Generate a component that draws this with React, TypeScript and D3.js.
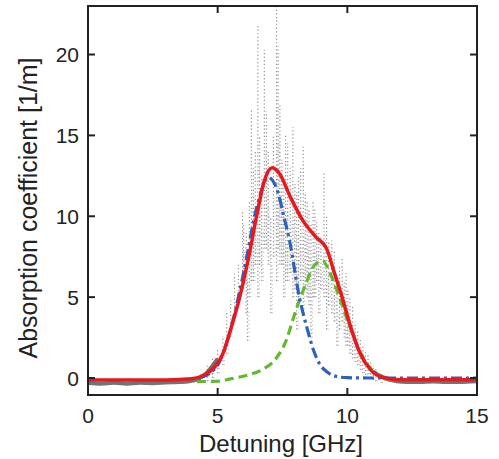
import React from "react";
import * as d3 from "d3";

// ---- data ----
const X_TICKS = [0, 5, 10, 15];
const Y_TICKS = [0, 5, 10, 15, 20];

// total fit (red)
const FIT_X = [0, 1, 2, 3, 4, 4.5, 4.9, 5.2, 5.5, 5.85, 6.2, 6.5, 6.8, 7.1, 7.4, 7.8, 8.3, 8.8, 9.2, 9.5, 9.8, 10.1, 10.5, 10.9, 11.35, 12, 13, 14, 15];
const FIT_Y = [-0.12, -0.12, -0.12, -0.12, -0.05, 0.2, 0.7, 1.5, 3.0, 5.0, 7.5, 10.0, 12.2, 13.0, 12.6, 11.2, 9.7, 8.7, 8.0, 6.5, 5.0, 3.3, 1.5, 0.5, 0.05, -0.1, -0.1, -0.1, -0.1];

// component 1 (blue, dash-dot)
const C1_X = [4.3, 4.7, 5.0, 5.5, 6.0, 6.5, 6.95, 7.3, 7.55, 7.77, 8.15, 8.46, 8.7, 8.92, 9.2, 9.57, 10.0, 11, 12, 13, 14, 15];
const C1_Y = [0.0, 0.3, 0.8, 3.0, 6.5, 10.5, 12.4, 11.6, 10.0, 8.5, 5.0, 3.0, 1.7, 0.9, 0.4, 0.1, 0.02, 0, 0, 0, 0, 0];

// component 2 (green, dashed)
const C2_X = [4.2, 5.0, 5.5, 6.2, 6.7, 7.27, 7.65, 7.9, 8.15, 8.42, 8.65, 8.92, 9.05, 9.3, 9.6, 10.0, 10.5, 11.0, 11.5, 12, 13, 14, 15];
const C2_Y = [-0.22, -0.2, -0.05, 0.2, 0.5, 1.25, 2.35, 3.6, 4.8, 5.9, 6.8, 7.2, 7.25, 6.6, 5.4, 3.6, 1.6, 0.4, 0.0, -0.1, -0.1, -0.1, -0.1];

// measured points: vertical scan streaks (x, low, high)
const STREAK_X = [4.6, 4.8, 5.0, 5.2, 5.35, 5.5, 5.65, 5.8, 5.96, 6.0, 6.1, 6.15, 6.22, 6.3, 6.38, 6.45, 6.55, 6.62, 6.7, 6.8, 6.88, 6.95, 7.05, 7.15, 7.27, 7.33, 7.4, 7.48, 7.55, 7.62, 7.7, 7.8, 7.9, 7.98, 8.05, 8.12, 8.2, 8.3, 8.38, 8.45, 8.52, 8.6, 8.68, 8.75, 8.82, 8.9, 8.98, 9.1, 9.2, 9.28, 9.4, 9.5, 9.6, 9.7, 9.8, 9.88, 9.95, 10.02, 10.1, 10.2, 10.3, 10.4, 10.5, 10.6, 10.7, 10.8, 10.9, 11.0, 11.1, 11.3];
const STREAK_LO = [-0.2, 0.0, 0.3, 0.8, 1.5, 2.5, 3.5, 4.5, 5.5, 6.5, 4.0, 2.3, 5.0, 6.0, 6.0, 7.0, 5.0, 7.0, 6.0, 8.0, 8.0, 7.0, 4.0, 7.5, 6.0, 8.0, 7.0, 7.0, 5.0, 6.0, 6.0, 6.5, 5.0, 5.5, 3.0, 5.0, 6.0, 4.0, 5.5, 5.0, 4.5, 2.5, 5.0, 5.0, 6.0, 4.0, 5.5, 5.0, 3.0, 4.5, 4.0, 3.5, 2.0, 3.0, 3.5, 2.5, 2.0, 2.0, 1.5, 1.2, 1.0, 0.8, 0.5, 0.3, 0.2, 0.0, 0.0, -0.1, -0.2, -0.3];
const STREAK_HI = [0.8, 1.2, 1.8, 2.6, 4.2, 4.8, 6.5, 7.0, 10.4, 9.5, 9.0, 6.2, 11.0, 16.6, 13.0, 14.0, 21.8, 15.0, 12.5, 20.3, 16.5, 14.0, 10.0, 15.0, 23.0, 20.5, 17.0, 13.5, 12.0, 15.0, 14.5, 13.0, 15.5, 12.0, 11.5, 12.5, 13.0, 14.3, 11.5, 11.0, 10.5, 9.5, 11.0, 10.5, 9.8, 9.0, 8.8, 12.7, 10.0, 8.5, 8.5, 7.8, 6.0, 7.0, 7.5, 6.0, 6.5, 5.5, 5.0, 4.5, 3.5, 3.0, 2.5, 2.0, 1.6, 1.4, 1.0, 0.8, 0.6, 0.3];

// measured points along the flat baseline
const BASE_X = [0, 0.5, 1.0, 1.5, 2.0, 2.5, 3.0, 3.5, 3.9, 4.2, 4.4, 4.6, 4.8, 5.0];
const BASE_Y = [-0.3, -0.35, -0.3, -0.35, -0.3, -0.32, -0.28, -0.25, -0.2, -0.1, 0.1, 0.35, 0.75, 1.2];
const BASE2_X = [11.0, 11.3, 11.6, 11.9, 12.3, 12.8, 13.3, 13.8, 14.3, 15];
const BASE2_Y = [0.4, 0.1, -0.1, -0.2, -0.25, -0.25, -0.22, -0.25, -0.25, -0.2];

const W = 499;
const H = 459;
const M = { left: 88, right: 22, top: 6, bottom: 64 };

export default function App() {
  const x = d3.scaleLinear().domain([0, 15]).range([M.left, W - M.right]);
  const y = d3.scaleLinear().domain([-1.05, 23]).range([H - M.bottom, M.top]);

  const line = (xs: number[], ys: number[]) =>
    d3
      .line<number>()
      .x((_, i) => x(xs[i]))
      .y((_, i) => y(ys[i]))
      .curve(d3.curveMonotoneX)(xs.map((_, i) => i)) || "";

  const x0 = x(0), x1 = x(15), yT = y(23), yB = y(-1.05);

  return (
    <svg width={W} height={H} style={{ position: "absolute", left: 0, top: 0, background: "#fff" }}
      fontFamily="'Liberation Sans', Arial, Helvetica, sans-serif">
      <defs>
        <clipPath id="plot">
          <rect x={x0} y={yT} width={x1 - x0} height={yB - yT} />
        </clipPath>
      </defs>
      <g clipPath="url(#plot)">
        {STREAK_X.map((sx, i) => (
          <line key={i} x1={x(sx)} x2={x(sx)} y1={y(STREAK_LO[i])} y2={y(STREAK_HI[i])}
            stroke="#777" strokeWidth={1.2} strokeDasharray="1.2 2.4" opacity={0.8} />
        ))}
        {STREAK_X.map((sx, i) => (
          <line key={"b" + i} x1={x(sx) + 1.5} x2={x(sx) + 1.5} y1={y(STREAK_LO[i])} y2={y((STREAK_LO[i] + STREAK_HI[i]) / 2)}
            stroke="#888" strokeWidth={1} strokeDasharray="1 3" opacity={0.6} />
        ))}
        <path d={line(BASE_X, BASE_Y)} fill="none" stroke="#444" strokeWidth={4} opacity={0.75} />
        <path d={line(BASE2_X, BASE2_Y)} fill="none" stroke="#444" strokeWidth={4} opacity={0.75} />
        <path d={line(C2_X, C2_Y)} fill="none" stroke="#62b930" strokeWidth={3.2} strokeDasharray="9 5" />
        <path d={line(C1_X, C1_Y)} fill="none" stroke="#2a62bd" strokeWidth={3.2} strokeDasharray="11 4 3 4" />
        <path d={line(FIT_X, FIT_Y)} fill="none" stroke="#e8191e" strokeWidth={3.5} />
      </g>
      {/* frame */}
      <rect x={x0} y={yT} width={x1 - x0} height={yB - yT} fill="none" stroke="#222" strokeWidth={2} />
      {X_TICKS.map((t) => (
        <g key={"xt" + t}>
          <line x1={x(t)} x2={x(t)} y1={yB} y2={yB - 7} stroke="#222" strokeWidth={2} />
          <line x1={x(t)} x2={x(t)} y1={yT} y2={yT + 7} stroke="#222" strokeWidth={2} />
          <text x={x(t)} y={423} textAnchor="middle" fontSize={21} fill="#222">{t}</text>
        </g>
      ))}
      {Y_TICKS.map((t) => (
        <g key={"yt" + t}>
          <line x1={x0} x2={x0 + 7} y1={y(t)} y2={y(t)} stroke="#222" strokeWidth={2} />
          <line x1={x1} x2={x1 - 7} y1={y(t)} y2={y(t)} stroke="#222" strokeWidth={2} />
          <text x={79} y={y(t)} dy="0.36em" textAnchor="end" fontSize={21} fill="#222">{t}</text>
        </g>
      ))}
      <text x={281} y={452} textAnchor="middle" fontSize={24} fill="#222">Detuning [GHz]</text>
      <text transform="translate(37,208) rotate(-90)" textAnchor="middle" fontSize={25} fill="#222">
        Absorption coefficient [1/m]
      </text>
    </svg>
  );
}
